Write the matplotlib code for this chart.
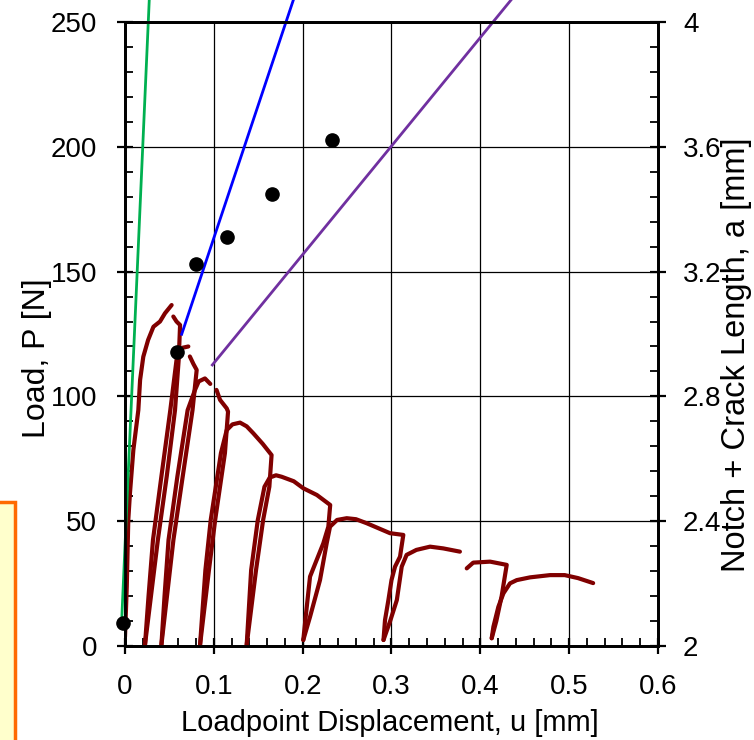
import matplotlib
matplotlib.use('Agg')
import matplotlib.pyplot as plt
import numpy as np
from matplotlib.patches import Rectangle
from matplotlib.ticker import MultipleLocator

plt.rcParams['font.family'] = ['Liberation Sans', 'DejaVu Sans']

nan = np.nan
# ---- load-displacement record (u [mm], P [N]), one list per loading cycle ----
cyc1_u = [0.0, 0.002, 0.0037, 0.0056, 0.0094, 0.015, 0.017, 0.0206, 0.026, 0.032, 0.0394, 0.045, 0.0525,
          nan, 0.0544, 0.058, 0.062, 0.0605, 0.0563, 0.047, 0.037, 0.0225]
cyc1_P = [3.7, 23.8, 50.5, 61.3, 78.5, 94.5, 106.6, 115.9, 122.6, 127.9, 130.0, 133.3, 136.6,
          nan, 132.0, 130.0, 128.6, 115.0, 94.5, 68.0, 42.5, 0.5]
cyc2_u = [0.0225, 0.0265, 0.0315, 0.041, 0.0510, 0.0585, 0.065, 0.0713, nan, 0.073, 0.077, 0.0807,
          0.0760, 0.065, 0.0545, 0.041]
cyc2_P = [0.5, 20.0, 42.5, 68.0, 94.5, 116.0, 119.5, 120.0, nan, 116.0, 113.0, 110.6,
          94.5, 68.0, 42.5, 0.5]
cyc3_u = [0.041, 0.0445, 0.0490, 0.059, 0.0705, 0.0788, 0.083, 0.090, 0.096, nan, 0.103, 0.107, 0.1145, 0.116,
          0.1125, 0.1015, 0.0945, 0.0845]
cyc3_P = [0.5, 20.0, 42.5, 68.0, 94.5, 102.6, 106.0, 107.2, 105.0, nan, 102.6, 98.6, 95.2, 93.9,
          77.3, 50.5, 30.4, 0.5]
cyc4_u = [0.0845, 0.0905, 0.0965, 0.108, 0.1145, 0.121, 0.1295, 0.137, 0.1445, 0.155, 0.165,
          0.1625, 0.1555, 0.1475, 0.137]
cyc4_P = [0.5, 30.4, 50.5, 77.3, 86.5, 88.8, 89.5, 88.0, 85.2, 81.0, 76.5,
          63.8, 50.5, 30.4, 0.5]
cyc5_u = [0.137, 0.1420, 0.1495, 0.157, 0.163, 0.170, 0.1764, 0.190, 0.2007, 0.216, 0.231,
          0.2289, 0.2232, 0.2158, 0.2083, 0.2035, 0.2007]
cyc5_P = [0.5, 30.4, 50.5, 63.8, 67.5, 68.4, 67.8, 66.0, 63.2, 60.5, 56.5,
          47.8, 41.1, 34.5, 27.8, 12.0, 2.4]
cyc6_u = [0.2007, 0.2083, 0.2195, 0.227, 0.2308, 0.2387, 0.2496, 0.260, 0.272, 0.2983, 0.3133,
          0.3096, 0.304, 0.300, 0.2965, 0.2927, 0.291]
cyc6_P = [2.4, 11.7, 26.4, 41.1, 47.8, 50.5, 51.2, 50.8, 49.2, 45.2, 44.5,
          35.8, 31.8, 26.4, 18.4, 10.4, 2.4]
cyc7_u = [0.291, 0.2985, 0.306, 0.3115, 0.317, 0.328, 0.3434, 0.3583, 0.377,
          nan, 0.3847, 0.392, 0.411, 0.4297, 0.424, 0.418, 0.4128]
cyc7_P = [2.4, 10.0, 18.4, 31.8, 36.5, 38.5, 39.8, 39.1, 37.8,
          nan, 31.1, 33.4, 33.8, 32.5, 20.0, 10.0, 3.1]
cyc8_u = [0.4128, 0.4147, 0.4203, 0.426, 0.4334, 0.441, 0.456, 0.4784, 0.495, 0.510, 0.527]
cyc8_P = [3.1, 7.7, 15.7, 21.1, 25.1, 26.4, 27.5, 28.4, 28.4, 27.2, 25.2]

# ---- notch + crack length measurements (u [mm], a [mm]) ----
crack_u = [-0.002, 0.0589, 0.0796, 0.1152, 0.1651, 0.2327]
crack_a = [2.075, 2.941, 3.223, 3.312, 3.448, 3.621]

# ---- compliance lines (u [mm], P [N]) ----
green_u = [-0.0037, 0.0273]
green_P = [10.4, 258.8]
blue_u = [0.0638, 0.1895]
blue_P = [124.9, 258.8]
purple_u = [0.0983, 0.4345]
purple_P = [112.6, 258.8]

xticks = [0, 0.1, 0.2, 0.3, 0.4, 0.5, 0.6]
xticklabels = ['0', '0.1', '0.2', '0.3', '0.4', '0.5', '0.6']
yticks = [0, 50, 100, 150, 200, 250]
y2ticks = [2, 2.4, 2.8, 3.2, 3.6, 4]
y2ticklabels = ['2', '2.4', '2.8', '3.2', '3.6', '4']

W, H = 754, 740
fig = plt.figure(figsize=(W / 100, H / 100), dpi=100)
fig.patches.append(Rectangle((-0.02, -0.02), 15 / W + 0.02, (H - 502) / H + 0.02,
                             transform=fig.transFigure, facecolor='#FFFFCC',
                             edgecolor='#FF6A00', linewidth=2.5, zorder=0))

ax = fig.add_axes([125 / W, (H - 646) / H, 533 / W, 624 / H])
ax.set_xlim(0, 0.6)
ax.set_ylim(0, 250)
ax.set_xticks(xticks)
ax.set_xticklabels(xticklabels)
ax.set_yticks(yticks)
ax.xaxis.set_minor_locator(MultipleLocator(0.02))
ax.yaxis.set_minor_locator(MultipleLocator(10))
ax.grid(True, which='major', color='black', linewidth=0.9)
ax.set_axisbelow(True)

red = '#800000'
for u, p in [(cyc1_u, cyc1_P), (cyc2_u, cyc2_P), (cyc3_u, cyc3_P), (cyc4_u, cyc4_P),
             (cyc5_u, cyc5_P), (cyc6_u, cyc6_P), (cyc7_u, cyc7_P), (cyc8_u, cyc8_P)]:
    ax.plot(u, p, color=red, linewidth=3.0, solid_capstyle='round',
            solid_joinstyle='round', zorder=3)

ax.plot(green_u, green_P, color='#00B050', linewidth=2.0, clip_on=False, zorder=4)
ax.plot(blue_u, blue_P, color='#0000FF', linewidth=2.0, clip_on=False, zorder=4)
ax.plot(purple_u, purple_P, color='#7030A0', linewidth=2.0, clip_on=False, zorder=4)

for s in ax.spines.values():
    s.set_linewidth(2.0)
ax.tick_params(axis='both', which='major', direction='inout', length=12, width=1.6,
               labelsize=20, top=False, right=False)
ax.tick_params(axis='both', which='minor', direction='in', length=6, width=1.3,
               top=False, right=False)
ax.tick_params(axis='x', which='major', pad=14)
ax.tick_params(axis='y', which='major', pad=14)

ax2 = ax.twinx()
ax2.set_ylim(2, 4)
ax2.set_yticks(y2ticks)
ax2.set_yticklabels(y2ticklabels)
ax2.yaxis.set_minor_locator(MultipleLocator(0.08))
for s in ax2.spines.values():
    s.set_linewidth(2.0)
ax2.tick_params(axis='y', which='major', direction='inout', length=12, width=1.6,
                labelsize=20, pad=12)
ax2.tick_params(axis='y', which='minor', direction='in', length=6, width=1.3)
ax2.plot(crack_u, crack_a, 'o', color='black', markersize=9.5, zorder=5, clip_on=False)

fig.text(390 / W, (H - 731) / H, 'Loadpoint Displacement, u [mm]', fontsize=21,
         ha='center', va='baseline')
fig.text(45 / W, (H - 358) / H, 'Load, P [N]', fontsize=23, rotation=90,
         rotation_mode='anchor', ha='center', va='baseline')
fig.text(745 / W, (H - 355) / H, 'Notch + Crack Length, a [mm]', fontsize=23.5, rotation=90,
         rotation_mode='anchor', ha='center', va='baseline')

fig.savefig('out.png', dpi=100)
